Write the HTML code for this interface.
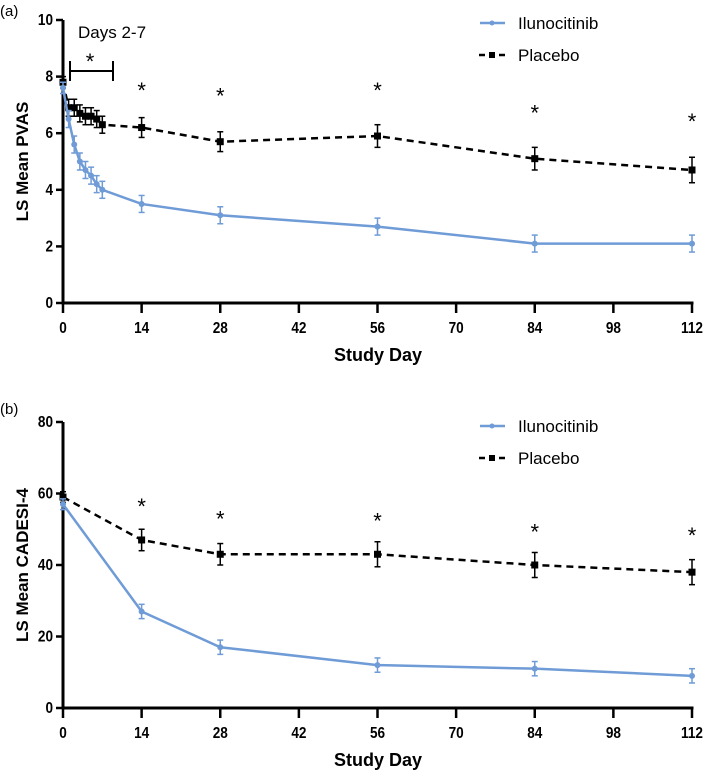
<!DOCTYPE html>
<html><head><meta charset="utf-8"><style>
body{margin:0;background:#fff;width:709px;height:772px;overflow:hidden}
svg text{font-family:"Liberation Sans",Arial,sans-serif}
</style></head><body>
<svg id="chart" width="709" height="772" viewBox="0 0 709 772" xmlns="http://www.w3.org/2000/svg"></svg>
<script>
const days = [0,14,28,42,56,70,84,98,112];
// Panel A
const aIlunDays = [0,1,2,3,4,5,6,7,14,28,56,84,112];
const aIlunVals = [7.6,6.5,5.6,5.0,4.7,4.5,4.2,4.0,3.5,3.1,2.7,2.1,2.1];
const aIlunErr  = [0.2,0.3,0.3,0.3,0.3,0.3,0.3,0.3,0.3,0.3,0.3,0.3,0.3];
const aPlacDays = [0,1,2,3,4,5,6,7,14,28,56,84,112];
const aPlacVals = [7.8,6.9,6.9,6.7,6.6,6.6,6.5,6.3,6.2,5.7,5.9,5.1,4.7];
const aPlacErr  = [0.2,0.3,0.3,0.3,0.3,0.3,0.3,0.3,0.35,0.35,0.4,0.4,0.45];
const aStarDays = [14,28,56,84,112];
const aStarVals = [7.6,7.4,7.6,6.8,6.5];
const aYTicks = [0,2,4,6,8,10];
// Panel B
const bIlunDays = [0,14,28,56,84,112];
const bIlunVals = [57,27,17,12,11,9];
const bIlunErr  = [1.5,2,2,2,2,2];
const bPlacDays = [0,14,28,56,84,112];
const bPlacVals = [59,47,43,43,40,38];
const bPlacErr  = [1.5,3,3,3.5,3.5,3.5];
const bStarDays = [14,28,56,84,112];
const bStarVals = [57,53.5,53,50,49];
const bYTicks = [0,20,40,60,80];

const NS="http://www.w3.org/2000/svg";
const svg=document.getElementById('chart');
function mk(tag,attrs,parent,name,text){const e=document.createElementNS(NS,tag);for(const k in attrs)e.setAttribute(k,attrs[k]);


if(text!==undefined)e.textContent=text;(parent||svg).appendChild(e);return e;}
const x=d=>63+d*(629/112);
const BLUE='#6f9bd6';

function panel(p){
  const g=mk('g',{},svg,p.name);
  const y=v=>p.y0-(v-0)*(p.y0-p.yTop)/p.yMax;
  mk('line',{x1:63,y1:y(p.yMax),x2:63,y2:p.y0+1.5,stroke:'#000','stroke-width':3},g,'y-axis');
  mk('line',{x1:61.5,y1:p.y0,x2:693.5,y2:p.y0,stroke:'#000','stroke-width':3},g,'x-axis');
  p.ticks.forEach(t=>{
    mk('line',{x1:56,y1:y(t),x2:63,y2:y(t),stroke:'#000','stroke-width':2.5},g,'y-tick');
    mk('text',{x:0,y:0,transform:`translate(53,${y(t)+5}) scale(0.85,1)`,'text-anchor':'end','font-size':16,'font-weight':'bold'},g,'y-tick-label',t);
  });
  days.forEach(d=>{
    mk('line',{x1:x(d),y1:p.y0,x2:x(d),y2:p.y0+10,stroke:'#000','stroke-width':2.5},g,'x-tick');
    mk('text',{x:0,y:0,transform:`translate(${x(d)},${p.y0+30}) scale(0.85,1)`,'text-anchor':'middle','font-size':16,'font-weight':'bold'},g,'x-tick-label',d);
  });
  mk('text',{x:378,y:p.y0+58,'text-anchor':'middle','font-size':18,'font-weight':'bold'},g,'x-axis-title','Study Day');
  const cy=(p.y0+y(p.yMax))/2;
  mk('text',{x:0,y:0,transform:`translate(28,${cy}) rotate(-90)`,'text-anchor':'middle','font-size':17,'font-weight':'bold'},g,'y-axis-title',p.ytitle);
  mk('text',{x:0,y:p.panelY,'font-size':15},g,'panel-label',p.label);
  function series(ds,vs,es,color,dash,sq,nm){
    const sg=mk('g',{},g,nm+'-series');
    es.forEach((e,i)=>{
      const xx=x(ds[i]),y1=y(vs[i]-e),y2=y(vs[i]+e);
      mk('line',{x1:xx,y1:y1,x2:xx,y2:y2,stroke:color,'stroke-width':1.5},sg,nm+'-error-bar');
      mk('line',{x1:xx-3,y1:y1,x2:xx+3,y2:y1,stroke:color,'stroke-width':1.5},sg,nm+'-error-cap');
      mk('line',{x1:xx-3,y1:y2,x2:xx+3,y2:y2,stroke:color,'stroke-width':1.5},sg,nm+'-error-cap');
    });
    mk('polyline',{points:ds.map((d,i)=>x(d)+','+y(vs[i])).join(' '),fill:'none',stroke:color,'stroke-width':2.5,'stroke-dasharray':dash?'7,5':'none'},sg,nm+'-line');
    ds.forEach((d,i)=>{
      if(sq) mk('rect',{x:x(d)-3.5,y:y(vs[i])-3.5,width:7,height:7,fill:color},sg,nm+'-point');
      else mk('circle',{cx:x(d),cy:y(vs[i]),r:3,fill:color},sg,nm+'-point');
    });
  }
  series(p.pd,p.pv,p.pe,'#000',true,true,'placebo');
  series(p.id,p.iv,p.ie,BLUE,false,false,'ilunocitinib');
  p.sd.forEach((d,i)=>mk('text',{x:x(d),y:y(p.sv[i])+10,'text-anchor':'middle','font-size':22},g,'significance-star','*'));
  const ly=p.legY;
  mk('line',{x1:480,y1:ly,x2:505,y2:ly,stroke:BLUE,'stroke-width':2.5},g,'legend-ilunocitinib-line');
  mk('circle',{cx:492,cy:ly,r:2.5,fill:BLUE},g,'legend-ilunocitinib-marker');
  mk('text',{x:518,y:ly+6,'font-size':17},g,'legend-ilunocitinib-label','Ilunocitinib');
  mk('line',{x1:479,y1:ly+32,x2:507,y2:ly+32,stroke:'#000','stroke-width':2.5,'stroke-dasharray':'6,4'},g,'legend-placebo-line');
  mk('rect',{x:489,y:ly+29,width:6,height:6,fill:'#000'},g,'legend-placebo-marker');
  mk('text',{x:518,y:ly+38,'font-size':17},g,'legend-placebo-label','Placebo');
  return g;
}
const ga=panel({name:'panel-a',y0:303,yTop:20,yMax:10,ticks:aYTicks,ytitle:'LS Mean PVAS',label:'(a)',panelY:16,
  id:aIlunDays,iv:aIlunVals,ie:aIlunErr,pd:aPlacDays,pv:aPlacVals,pe:aPlacErr,sd:aStarDays,sv:aStarVals,legY:23});
panel({name:'panel-b',y0:708,yTop:422,yMax:80,ticks:bYTicks,ytitle:'LS Mean CADESI-4',label:'(b)',panelY:414,
  id:bIlunDays,iv:bIlunVals,ie:bIlunErr,pd:bPlacDays,pv:bPlacVals,pe:bPlacErr,sd:bStarDays,sv:bStarVals,legY:426});
mk('text',{x:78,y:38,'font-size':17},ga,'days-2-7-label','Days 2-7');
mk('line',{x1:70,y1:71,x2:113,y2:71,stroke:'#000','stroke-width':2},ga,'days-bracket');
mk('line',{x1:70,y1:61,x2:70,y2:81,stroke:'#000','stroke-width':2},ga,'days-bracket-left');
mk('line',{x1:113,y1:61,x2:113,y2:81,stroke:'#000','stroke-width':2},ga,'days-bracket-right');
mk('text',{x:90,y:69,'text-anchor':'middle','font-size':22},ga,'days-bracket-star','*');
</script>
</body></html>
